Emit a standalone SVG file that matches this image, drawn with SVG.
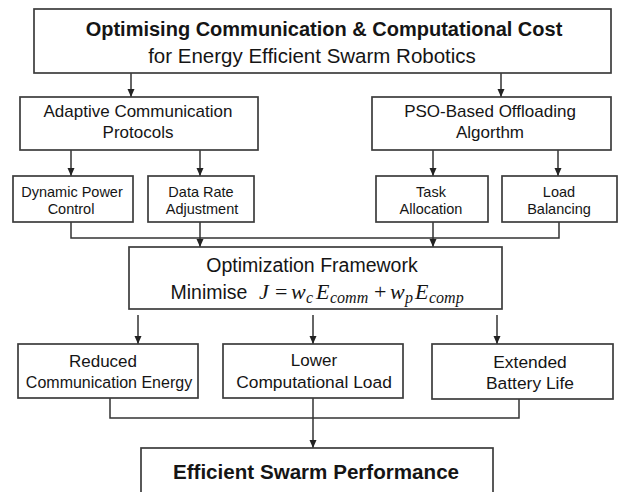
<svg xmlns="http://www.w3.org/2000/svg" width="627" height="492" viewBox="0 0 627 492">
<style>
.box{fill:#fff;stroke:#3c3c3c;stroke-width:1.7}
.ln{fill:none;stroke:#333;stroke-width:1.5}
.t{font-family:"Liberation Sans",Arial,Helvetica,sans-serif;fill:#151515;text-anchor:middle}
.m{font-family:"Liberation Serif","Times New Roman",serif;fill:#151515;font-style:italic}
.mu{font-family:"Liberation Serif","Times New Roman",serif;fill:#151515}
</style>
<defs>
<marker id="ah" markerUnits="userSpaceOnUse" markerWidth="8" markerHeight="8" refX="8" refY="4" orient="auto">
<path d="M0,0.5 L8,4 L0,7.5 z" fill="#222"/>
</marker>
</defs>
<rect width="627" height="492" fill="#fff"/>
<g id="connectors">
<line class="ln" x1="131" y1="73" x2="131" y2="97" marker-end="url(#ah)"/>
<line class="ln" x1="501" y1="73" x2="501" y2="97" marker-end="url(#ah)"/>
<line class="ln" x1="71" y1="150" x2="71" y2="176" marker-end="url(#ah)"/>
<line class="ln" x1="200" y1="150" x2="200" y2="176" marker-end="url(#ah)"/>
<line class="ln" x1="433" y1="150" x2="433" y2="176" marker-end="url(#ah)"/>
<line class="ln" x1="558" y1="150" x2="558" y2="176" marker-end="url(#ah)"/>
<polyline class="ln" points="71,222 71,238 559,238 559,222"/>
<line class="ln" x1="200" y1="222" x2="200" y2="247" marker-end="url(#ah)"/>
<line class="ln" x1="433" y1="222" x2="433" y2="247" marker-end="url(#ah)"/>
<line class="ln" x1="138" y1="315" x2="138" y2="344" marker-end="url(#ah)"/>
<line class="ln" x1="313" y1="315" x2="313" y2="344" marker-end="url(#ah)"/>
<line class="ln" x1="497" y1="315" x2="497" y2="344" marker-end="url(#ah)"/>
<polyline class="ln" points="110,398 110,418 519,418 519,399"/>
<line class="ln" x1="313" y1="398" x2="313" y2="448" marker-end="url(#ah)"/>
</g>
<g id="title">
<rect class="box" x="34" y="9" width="577" height="64"/>
<text class="t" x="324" y="36" font-size="20" font-weight="bold">Optimising Communication &amp; Computational Cost</text>
<text class="t" x="312" y="63" font-size="20.5">for Energy Efficient Swarm Robotics</text>
</g>
<g id="adaptive">
<rect class="box" x="20" y="97" width="238" height="53"/>
<text class="t" x="138" y="117" font-size="17">Adaptive Communication</text>
<text class="t" x="138" y="138" font-size="17">Protocols</text>
</g>
<g id="pso">
<rect class="box" x="372" y="97" width="239" height="53"/>
<text class="t" x="490" y="117" font-size="17">PSO-Based Offloading</text>
<text class="t" x="490" y="138" font-size="17">Algorthm</text>
</g>
<g id="dynamic">
<rect class="box" x="13" y="176" width="120" height="46"/>
<text class="t" x="72" y="197" font-size="14.5">Dynamic Power</text>
<text class="t" x="71" y="214" font-size="14.5">Control</text>
</g>
<g id="datarate">
<rect class="box" x="148" y="176" width="106" height="46"/>
<text class="t" x="201" y="197" font-size="14.5">Data Rate</text>
<text class="t" x="202" y="214" font-size="14.5">Adjustment</text>
</g>
<g id="task">
<rect class="box" x="376" y="176" width="112" height="46"/>
<text class="t" x="431" y="197" font-size="14.5">Task</text>
<text class="t" x="431" y="214" font-size="14.5">Allocation</text>
</g>
<g id="load">
<rect class="box" x="502" y="176" width="115" height="46"/>
<text class="t" x="559" y="197" font-size="14.5">Load</text>
<text class="t" x="559" y="214" font-size="14.5">Balancing</text>
</g>
<g id="framework">
<rect class="box" x="129" y="247" width="373" height="62"/>
<text class="t" x="312" y="272" font-size="19.5">Optimization Framework</text>
<text class="t" x="209" y="299" font-size="19.5">Minimise</text>
<text class="m" x="259" y="299" font-size="22">J</text>
<text class="mu" x="275" y="299" font-size="22">=</text>
<text class="m" x="291" y="299" font-size="22">w</text>
<text class="m" x="306" y="303" font-size="16">c</text>
<text class="m" x="316" y="299" font-size="22">E</text>
<text class="m" x="330" y="303" font-size="16">comm</text>
<text class="mu" x="374" y="299" font-size="22">+</text>
<text class="m" x="390" y="299" font-size="22">w</text>
<text class="m" x="405" y="303" font-size="16">p</text>
<text class="m" x="415" y="299" font-size="22">E</text>
<text class="m" x="429" y="303" font-size="16">comp</text>
</g>
<g id="reduced">
<rect class="box" x="18" y="344" width="180" height="54"/>
<text class="t" x="103" y="367" font-size="17">Reduced</text>
<text class="t" x="109" y="388" font-size="16">Communication Energy</text>
</g>
<g id="lower">
<rect class="box" x="223" y="344" width="180" height="54"/>
<text class="t" x="314" y="366" font-size="17">Lower</text>
<text class="t" x="314" y="388" font-size="17.4">Computational Load</text>
</g>
<g id="extended">
<rect class="box" x="432" y="344" width="181" height="55"/>
<text class="t" x="530" y="368" font-size="17.4">Extended</text>
<text class="t" x="530" y="389" font-size="17.4">Battery Life</text>
</g>
<g id="final">
<rect class="box" x="141" y="448" width="352" height="60"/>
<text class="t" x="316" y="479" font-size="20.6" font-weight="bold">Efficient Swarm Performance</text>
</g>
</svg>
